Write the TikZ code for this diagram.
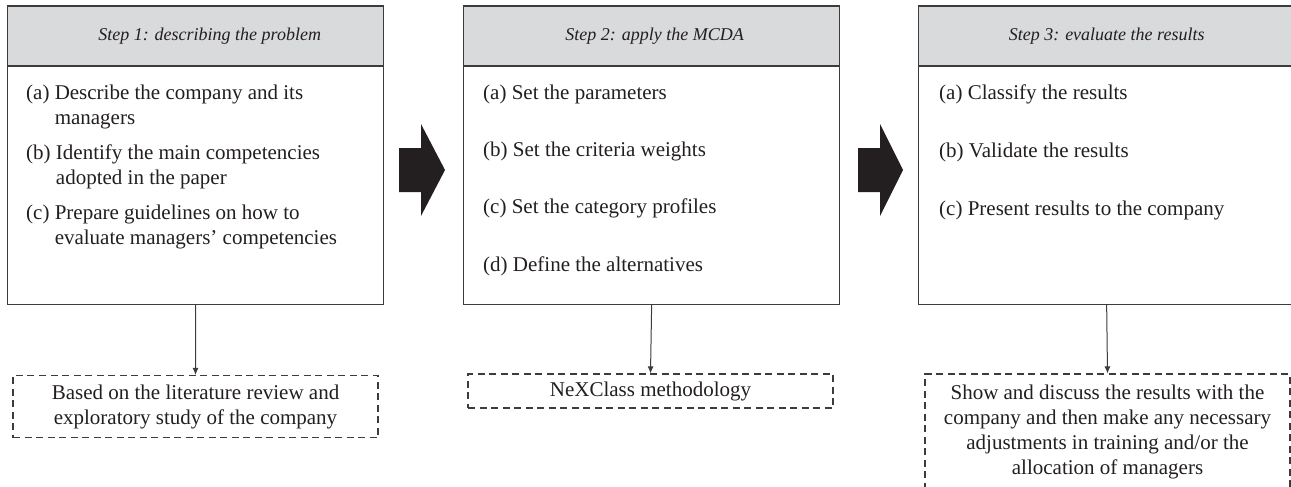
\documentclass[tikz,border=0pt]{standalone}
\usepackage{fontspec}
\setmainfont{Liberation Serif}
\usetikzlibrary{arrows.meta}
\definecolor{ink}{HTML}{231F20}
\definecolor{edge}{HTML}{3C3C3C}
\definecolor{headfill}{HTML}{D9DADB}
\tikzset{
  bodyfont/.style={font=\fontsize{21}{25}\selectfont},
  stepbody/.style={draw=edge, line width=1.3pt, fill=white, minimum width=376pt, minimum height=298pt, anchor=north west, inner sep=0pt},
  stephead/.style={draw=edge, line width=1.3pt, fill=headfill, minimum width=376pt, minimum height=60pt, anchor=north west, inner sep=0pt},
  headtext/.style={font=\fontsize{18}{22}\selectfont\itshape, text=ink, inner sep=0pt},
  item/.style={bodyfont, text=ink, align=left, anchor=north west, inner sep=0pt},
  notebox/.style={draw=edge, line width=1.1pt, dash pattern=on 7pt off 4.5pt, minimum width=365pt, align=center, bodyfont, text=ink, inner sep=0pt},
  blockarrow/.style={fill=ink, draw=none},
  downarrow/.style={draw=edge, line width=1pt, -{Latex[length=7pt,width=6pt]}},
}
\begin{document}
\begin{tikzpicture}[x=1pt,y=-1pt]
\useasboundingbox (0,0) rectangle (1291,487);
\fill[white] (0,0) rectangle (1291,487);

% step boxes
\node[stepbody] (b1) at (7,5.5) {};
\node[stephead] (h1) at (7,5.5) {};
\node[headtext] (t1) at ([xshift=14pt]h1.center) {Step 1: describing the problem};

\node[stepbody] (b2) at (463,5.5) {};
\node[stephead] (h2) at (463,5.5) {};
\node[headtext] (t2) at ([xshift=3pt]h2.center) {Step 2: apply the MCDA};

\node[stepbody] (b3) at (918,5.5) {};
\node[stephead] (h3) at (918,5.5) {};
\node[headtext] (t3) at (h3.center) {Step 3: evaluate the results};

% items step 1
\node[item] (i1a) at (26,81.5) {\strut(a) Describe the company and its\\\phantom{(a)\ }managers};
\node[item] (i1b) at (26,141.5) {\strut(b) Identify the main competencies\\\phantom{(b)\ }adopted in the paper};
\node[item] (i1c) at (26,201.5) {\strut(c) Prepare guidelines on how to\\\phantom{(c)\ }evaluate managers’ competencies};

% items step 2
\node[item] (i2a) at (483,81.5) {\strut(a) Set the parameters};
\node[item] (i2b) at (483,138.5) {\strut(b) Set the criteria weights};
\node[item] (i2c) at (483,195.5) {\strut(c) Set the category profiles};
\node[item] (i2d) at (483,253.5) {\strut(d) Define the alternatives};

% items step 3
\node[item] (i3a) at (939,81.5) {\strut(a) Classify the results};
\node[item] (i3b) at (939,139.5) {\strut(b) Validate the results};
\node[item] (i3c) at (939,197.5) {\strut(c) Present results to the company};

% block arrows
\fill[blockarrow] (399,148) -- (421,148) -- (421,124) -- (445,170) -- (421,216) -- (421,192) -- (399,192) -- cycle;
\fill[blockarrow] (858,148) -- (880,148) -- (880,124) -- (903,170) -- (880,216) -- (880,192) -- (858,192) -- cycle;

% notes
\node[notebox, minimum height=62pt] (n1) at (195.5,406.5) {Based on the literature review and\\exploratory study of the company};
\node[notebox, minimum height=34pt] (n2) at (650.5,391) {NeXClass methodology};
\node[notebox, minimum height=116pt] (n3) at (1107.5,432) {Show and discuss the results with the\\company and then make any necessary\\adjustments in training and/or the\\allocation of managers};

% connectors
\draw[downarrow] (b1.south) -- (n1.north);
\draw[downarrow] (b2.south) -- (n2.north);
\draw[downarrow] (b3.south) -- (n3.north);
\end{tikzpicture}
\end{document}
